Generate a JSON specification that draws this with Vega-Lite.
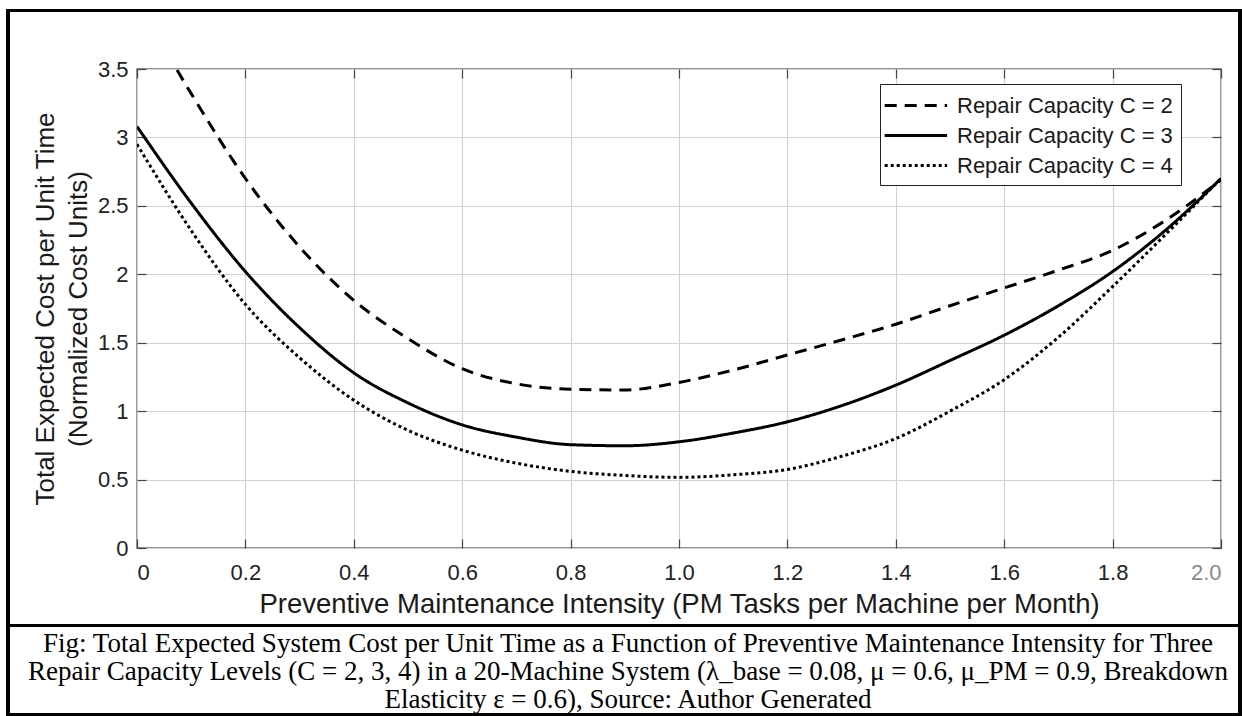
{
  "$schema": "https://vega.github.io/schema/vega-lite/v6.json",
  "width": 1084,
  "height": 479,
  "autosize": {"type": "none"},
  "padding": {"left": 137, "top": 69, "right": 21, "bottom": 168},
  "background": "white",
  "config": {
    "font": "Liberation Sans",
    "view": {"stroke": "#707070", "strokeWidth": 1.5},
    "axis": {
      "labelFont": "Liberation Sans",
      "titleFont": "Liberation Sans",
      "titleFontWeight": "normal",
      "gridColor": "#d2d2d2",
      "gridWidth": 1.2,
      "domain": false,
      "tickColor": "#444444",
      "tickWidth": 1.2
    }
  },
  "title": {
    "text": [
      "Fig: Total Expected System Cost per Unit Time as a Function of Preventive Maintenance Intensity for Three",
      "Repair Capacity Levels (C = 2, 3, 4) in a 20-Machine System (λ_base = 0.08, μ = 0.6, μ_PM = 0.9, Breakdown",
      "Elasticity ε = 0.6), Source: Author Generated"
    ],
    "orient": "bottom",
    "anchor": "middle",
    "frame": "group",
    "dx": -51,
    "offset": -85,
    "font": "Liberation Serif",
    "fontSize": 27,
    "fontWeight": "normal",
    "lineHeight": 28,
    "color": "#000000"
  },
  "datasets": {
    "curves": [
      {"x": 0.0, "cost": 4.00, "series": "Repair Capacity C = 2"},
      {"x": 0.1, "cost": 3.32, "series": "Repair Capacity C = 2"},
      {"x": 0.2, "cost": 2.70, "series": "Repair Capacity C = 2"},
      {"x": 0.3, "cost": 2.20, "series": "Repair Capacity C = 2"},
      {"x": 0.4, "cost": 1.81, "series": "Repair Capacity C = 2"},
      {"x": 0.5, "cost": 1.53, "series": "Repair Capacity C = 2"},
      {"x": 0.6, "cost": 1.31, "series": "Repair Capacity C = 2"},
      {"x": 0.7, "cost": 1.20, "series": "Repair Capacity C = 2"},
      {"x": 0.8, "cost": 1.16, "series": "Repair Capacity C = 2"},
      {"x": 0.9, "cost": 1.155, "series": "Repair Capacity C = 2"},
      {"x": 1.0, "cost": 1.21, "series": "Repair Capacity C = 2"},
      {"x": 1.1, "cost": 1.30, "series": "Repair Capacity C = 2"},
      {"x": 1.2, "cost": 1.41, "series": "Repair Capacity C = 2"},
      {"x": 1.3, "cost": 1.52, "series": "Repair Capacity C = 2"},
      {"x": 1.4, "cost": 1.635, "series": "Repair Capacity C = 2"},
      {"x": 1.5, "cost": 1.77, "series": "Repair Capacity C = 2"},
      {"x": 1.6, "cost": 1.90, "series": "Repair Capacity C = 2"},
      {"x": 1.7, "cost": 2.03, "series": "Repair Capacity C = 2"},
      {"x": 1.8, "cost": 2.175, "series": "Repair Capacity C = 2"},
      {"x": 1.9, "cost": 2.40, "series": "Repair Capacity C = 2"},
      {"x": 2.0, "cost": 2.69, "series": "Repair Capacity C = 2"},
      {"x": 0.0, "cost": 3.08, "series": "Repair Capacity C = 3"},
      {"x": 0.1, "cost": 2.52, "series": "Repair Capacity C = 3"},
      {"x": 0.2, "cost": 2.02, "series": "Repair Capacity C = 3"},
      {"x": 0.3, "cost": 1.61, "series": "Repair Capacity C = 3"},
      {"x": 0.4, "cost": 1.28, "series": "Repair Capacity C = 3"},
      {"x": 0.5, "cost": 1.06, "series": "Repair Capacity C = 3"},
      {"x": 0.6, "cost": 0.90, "series": "Repair Capacity C = 3"},
      {"x": 0.7, "cost": 0.81, "series": "Repair Capacity C = 3"},
      {"x": 0.8, "cost": 0.755, "series": "Repair Capacity C = 3"},
      {"x": 0.9, "cost": 0.747, "series": "Repair Capacity C = 3"},
      {"x": 1.0, "cost": 0.776, "series": "Repair Capacity C = 3"},
      {"x": 1.1, "cost": 0.84, "series": "Repair Capacity C = 3"},
      {"x": 1.2, "cost": 0.922, "series": "Repair Capacity C = 3"},
      {"x": 1.3, "cost": 1.04, "series": "Repair Capacity C = 3"},
      {"x": 1.4, "cost": 1.19, "series": "Repair Capacity C = 3"},
      {"x": 1.5, "cost": 1.37, "series": "Repair Capacity C = 3"},
      {"x": 1.6, "cost": 1.555, "series": "Repair Capacity C = 3"},
      {"x": 1.7, "cost": 1.77, "series": "Repair Capacity C = 3"},
      {"x": 1.8, "cost": 2.02, "series": "Repair Capacity C = 3"},
      {"x": 1.9, "cost": 2.33, "series": "Repair Capacity C = 3"},
      {"x": 2.0, "cost": 2.70, "series": "Repair Capacity C = 3"},
      {"x": 0.0, "cost": 2.95, "series": "Repair Capacity C = 4"},
      {"x": 0.1, "cost": 2.32, "series": "Repair Capacity C = 4"},
      {"x": 0.2, "cost": 1.78, "series": "Repair Capacity C = 4"},
      {"x": 0.3, "cost": 1.39, "series": "Repair Capacity C = 4"},
      {"x": 0.4, "cost": 1.08, "series": "Repair Capacity C = 4"},
      {"x": 0.5, "cost": 0.86, "series": "Repair Capacity C = 4"},
      {"x": 0.6, "cost": 0.715, "series": "Repair Capacity C = 4"},
      {"x": 0.7, "cost": 0.62, "series": "Repair Capacity C = 4"},
      {"x": 0.8, "cost": 0.56, "series": "Repair Capacity C = 4"},
      {"x": 0.9, "cost": 0.53, "series": "Repair Capacity C = 4"},
      {"x": 1.0, "cost": 0.516, "series": "Repair Capacity C = 4"},
      {"x": 1.1, "cost": 0.535, "series": "Repair Capacity C = 4"},
      {"x": 1.2, "cost": 0.574, "series": "Repair Capacity C = 4"},
      {"x": 1.3, "cost": 0.67, "series": "Repair Capacity C = 4"},
      {"x": 1.4, "cost": 0.80, "series": "Repair Capacity C = 4"},
      {"x": 1.5, "cost": 1.00, "series": "Repair Capacity C = 4"},
      {"x": 1.6, "cost": 1.23, "series": "Repair Capacity C = 4"},
      {"x": 1.7, "cost": 1.54, "series": "Repair Capacity C = 4"},
      {"x": 1.8, "cost": 1.91, "series": "Repair Capacity C = 4"},
      {"x": 1.9, "cost": 2.30, "series": "Repair Capacity C = 4"},
      {"x": 2.0, "cost": 2.70, "series": "Repair Capacity C = 4"}
    ]
  },
  "data": {"name": "curves"},
  "resolve": {"axis": {"x": "independent", "y": "independent"}},
  "layer": [
    {
      "mark": {"type": "line", "clip": true, "strokeWidth": 3, "color": "black", "interpolate": "monotone"},
      "encoding": {
        "x": {
          "field": "x", "type": "quantitative",
          "scale": {"domain": [0, 2], "nice": false, "zero": false},
          "axis": {
            "orient": "bottom",
            "values": [0, 0.2, 0.4, 0.6, 0.8, 1.0, 1.2, 1.4, 1.6, 1.8, 2.0],
            "labelExpr": "datum.value == 0 ? '0' : format(datum.value, '.1f')",
            "labelFontSize": 22,
            "labelColor": {"condition": {"test": "datum.value == 2", "value": "#8a8a8a"}, "value": "#222222"},
            "labelPadding": 23,
            "tickSize": -9,
            "title": "Preventive Maintenance Intensity (PM Tasks per Machine per Month)",
            "titleFontSize": 27.5,
            "titleColor": "#1a1a1a",
            "titlePadding": 7
          }
        },
        "y": {
          "field": "cost", "type": "quantitative",
          "scale": {"domain": [0, 3.5], "nice": false, "zero": true},
          "axis": {
            "orient": "left",
            "values": [0, 0.5, 1, 1.5, 2, 2.5, 3, 3.5],
            "format": "~g",
            "labelFontSize": 22,
            "labelColor": "#222222",
            "labelPadding": 18,
            "tickSize": -9,
            "title": ["Total Expected Cost per Unit Time", "(Normalized Cost Units)"],
            "titleFontSize": 26,
            "titleLineHeight": 33,
            "titleColor": "#1a1a1a",
            "titlePadding": 6
          }
        },
        "strokeDash": {
          "field": "series", "type": "nominal",
          "scale": {
            "domain": ["Repair Capacity C = 2", "Repair Capacity C = 3", "Repair Capacity C = 4"],
            "range": [[12, 8], [1, 0], [3, 3]]
          },
          "legend": {
            "title": null,
            "orient": "none",
            "legendX": 743,
            "legendY": 15,
            "fillColor": "white",
            "strokeColor": "#222222",
            "padding": 8,
            "rowPadding": 5,
            "labelFont": "Liberation Sans",
            "labelFontSize": 22,
            "labelColor": "#1a1a1a",
            "labelLimit": 400,
            "labelOffset": 42,
            "symbolType": "M-1.4,0H3.8",
            "symbolSize": 576,
            "symbolStrokeWidth": 3,
            "symbolStrokeColor": "black",
            "symbolFillColor": "transparent"
          }
        }
      }
    },
    {
      "mark": {"type": "point", "opacity": 0},
      "encoding": {
        "x": {
          "field": "x", "type": "quantitative",
          "scale": {"domain": [0, 2], "nice": false, "zero": false},
          "axis": {"orient": "top", "values": [0, 0.2, 0.4, 0.6, 0.8, 1.0, 1.2, 1.4, 1.6, 1.8, 2.0], "labels": false, "grid": false, "tickSize": -9, "title": null}
        },
        "y": {
          "field": "cost", "type": "quantitative",
          "scale": {"domain": [0, 3.5], "nice": false, "zero": true},
          "axis": {"orient": "right", "values": [0, 0.5, 1, 1.5, 2, 2.5, 3, 3.5], "labels": false, "grid": false, "tickSize": -9, "title": null}
        }
      }
    },
    {
      "mark": {"type": "rect", "fill": null, "stroke": "black", "strokeWidth": 2.5, "clip": false},
      "encoding": {
        "x": {"datum": -0.238, "type": "quantitative", "scale": {"domain": [0, 2], "nice": false, "zero": false}, "axis": null},
        "x2": {"datum": 2.035},
        "y": {"datum": 3.927, "type": "quantitative", "scale": {"domain": [0, 3.5], "nice": false, "zero": true}, "axis": null},
        "y2": {"datum": -1.22}
      }
    },
    {
      "mark": {"type": "rule", "stroke": "black", "strokeWidth": 2.5, "clip": false},
      "encoding": {
        "x": {"datum": -0.238, "type": "quantitative", "scale": {"domain": [0, 2], "nice": false, "zero": false}, "axis": null},
        "x2": {"datum": 2.035},
        "y": {"datum": -0.568, "type": "quantitative", "scale": {"domain": [0, 3.5], "nice": false, "zero": true}, "axis": null}
      }
    }
  ]
}
